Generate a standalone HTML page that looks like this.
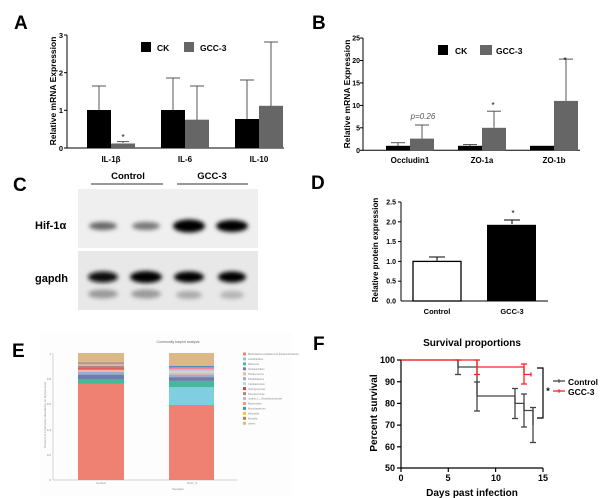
<!DOCTYPE html>
<html><head><meta charset="utf-8"><style>
html,body{margin:0;padding:0;background:#fff;width:600px;height:498px;overflow:hidden}
svg{display:block;font-family:"Liberation Sans",sans-serif}
.b{font-weight:bold}
</style></head><body>
<svg width="600" height="498" viewBox="0 0 600 498" xmlns="http://www.w3.org/2000/svg">
<defs>
<filter id="bl" x="-30%" y="-60%" width="160%" height="220%"><feGaussianBlur stdDeviation="2"/></filter>
</defs>
<g class="b" font-size="19" fill="#000">
<text x="14" y="29">A</text><text x="312" y="29">B</text>
<text x="13" y="191">C</text><text x="311" y="189">D</text>
<text x="12" y="357">E</text><text x="313" y="350">F</text>
</g>

<!-- Panel A -->
<g stroke="#000" stroke-width="1" fill="none">
<line x1="67" y1="35" x2="67" y2="148"/><line x1="67" y1="148" x2="284" y2="148"/>
<line x1="64" y1="35" x2="67" y2="35"/><line x1="64" y1="72.7" x2="67" y2="72.7"/><line x1="64" y1="110.3" x2="67" y2="110.3"/><line x1="64" y1="148" x2="67" y2="148"/>
</g>
<g class="b" font-size="7.5" text-anchor="end"><text x="63" y="38">3</text><text x="63" y="75.5">2</text><text x="63" y="113">1</text><text x="63" y="151">0</text></g>
<text class="b" font-size="8.5" transform="translate(56,91) rotate(-90)" text-anchor="middle">Relative mRNA Expression</text>
<g stroke="#555" stroke-width="1">
<line x1="99" y1="110" x2="99" y2="86"/><line x1="92" y1="86" x2="106" y2="86"/>
<line x1="123" y1="143" x2="123" y2="141.6"/><line x1="117" y1="141.6" x2="129" y2="141.6"/>
<line x1="173" y1="110" x2="173" y2="78"/><line x1="166" y1="78" x2="180" y2="78"/>
<line x1="197" y1="120" x2="197" y2="86"/><line x1="190" y1="86" x2="204" y2="86"/>
<line x1="247" y1="119" x2="247" y2="80"/><line x1="240" y1="80" x2="254" y2="80"/>
<line x1="271" y1="106" x2="271" y2="42"/><line x1="264" y1="42" x2="278" y2="42"/>
</g>
<rect x="87" y="110" width="24" height="38" fill="#000"/>
<rect x="111" y="143.5" width="24" height="4.5" fill="#666"/>
<rect x="161" y="110" width="24" height="38" fill="#000"/>
<rect x="185" y="119.7" width="24" height="28.3" fill="#666"/>
<rect x="235" y="119" width="24" height="29" fill="#000"/>
<rect x="259" y="105.8" width="24" height="42.2" fill="#666"/>
<text x="123" y="140" font-size="8" text-anchor="middle">*</text>
<rect x="141" y="42" width="10" height="10" fill="#000"/><text class="b" x="157" y="51" font-size="8.5">CK</text>
<rect x="184" y="42" width="10" height="10" fill="#666"/><text class="b" x="200" y="51" font-size="8.5">GCC-3</text>
<g class="b" font-size="8" text-anchor="middle"><text x="111" y="162">IL-1β</text><text x="185" y="162">IL-6</text><text x="259" y="162">IL-10</text></g>

<!-- Panel B -->
<g stroke="#000" stroke-width="1" fill="none">
<line x1="363" y1="38" x2="363" y2="150.3"/><line x1="363" y1="150.3" x2="580" y2="150.3"/>
<line x1="360" y1="38" x2="363" y2="38"/><line x1="360" y1="60.5" x2="363" y2="60.5"/><line x1="360" y1="82.9" x2="363" y2="82.9"/><line x1="360" y1="105.4" x2="363" y2="105.4"/><line x1="360" y1="127.8" x2="363" y2="127.8"/><line x1="360" y1="150.3" x2="363" y2="150.3"/>
</g>
<g class="b" font-size="7" text-anchor="end"><text x="360" y="40.5">25</text><text x="360" y="63">20</text><text x="360" y="85.5">15</text><text x="360" y="108">10</text><text x="360" y="130.5">5</text><text x="360" y="153">0</text></g>
<text class="b" font-size="8.5" transform="translate(350,94) rotate(-90)" text-anchor="middle">Relative mRNA Expression</text>
<g stroke="#555" stroke-width="1">
<line x1="398" y1="146" x2="398" y2="142.7"/><line x1="391" y1="142.7" x2="405" y2="142.7"/>
<line x1="422" y1="138.6" x2="422" y2="125"/><line x1="415" y1="125" x2="429" y2="125"/>
<line x1="494" y1="127.8" x2="494" y2="111.2"/><line x1="487" y1="111.2" x2="501" y2="111.2"/>
<line x1="566" y1="100.9" x2="566" y2="59.1"/><line x1="559" y1="59.1" x2="573" y2="59.1"/>
<line x1="470" y1="146" x2="470" y2="144.5"/><line x1="463" y1="144.5" x2="477" y2="144.5"/>
</g>
<rect x="386" y="145.8" width="24" height="4.5" fill="#000"/>
<rect x="410" y="138.6" width="24" height="11.7" fill="#666"/>
<rect x="458" y="145.8" width="24" height="4.5" fill="#000"/>
<rect x="482" y="127.8" width="24" height="22.5" fill="#666"/>
<rect x="530" y="145.8" width="24" height="4.5" fill="#000"/>
<rect x="554" y="100.9" width="24" height="49.4" fill="#666"/>
<text x="423" y="119" font-size="8" font-style="italic" fill="#555" text-anchor="middle">p=0.26</text>
<text x="493" y="108" font-size="8" text-anchor="middle">*</text>
<text x="565" y="63" font-size="8" text-anchor="middle">*</text>
<rect x="438" y="45" width="10" height="10" fill="#000"/><text class="b" x="455" y="54" font-size="8.5">CK</text>
<rect x="480" y="45" width="12" height="10" fill="#666"/><text class="b" x="496" y="54" font-size="8.5">GCC-3</text>
<g class="b" font-size="8" text-anchor="middle"><text x="410" y="163">Occludin1</text><text x="482" y="163">ZO-1a</text><text x="554" y="163">ZO-1b</text></g>

<!-- Panel C -->
<g class="b" font-size="9.5" text-anchor="middle"><text x="128" y="179">Control</text><text x="212" y="179">GCC-3</text></g>
<line x1="91" y1="184" x2="163" y2="184" stroke="#333" stroke-width="1"/>
<line x1="177" y1="184" x2="248" y2="184" stroke="#333" stroke-width="1"/>
<rect x="78" y="189" width="180" height="59" fill="#efefef"/>
<rect x="78" y="251" width="180" height="59" fill="#e8e8e8"/>
<g filter="url(#bl)">
<ellipse cx="103" cy="226" rx="14" ry="4" fill="#666"/>
<ellipse cx="146" cy="226" rx="14" ry="4" fill="#777"/>
<ellipse cx="189" cy="226" rx="16" ry="6.5" fill="#000"/>
<ellipse cx="232" cy="226" rx="16" ry="6" fill="#000"/>
<ellipse cx="103" cy="277" rx="15" ry="5.5" fill="#111"/>
<ellipse cx="146" cy="277" rx="16" ry="6" fill="#000"/>
<ellipse cx="189" cy="277" rx="15" ry="5.5" fill="#000"/>
<ellipse cx="232" cy="277" rx="14" ry="5.5" fill="#000"/>
<ellipse cx="103" cy="294" rx="15" ry="4.5" fill="#999"/>
<ellipse cx="146" cy="294" rx="15" ry="4.5" fill="#999"/>
<ellipse cx="189" cy="295" rx="13" ry="4" fill="#aaa"/>
<ellipse cx="232" cy="295" rx="12" ry="4" fill="#b5b5b5"/>
</g>
<text class="b" x="35" y="229" font-size="11">Hif-1α</text>
<text class="b" x="35" y="282" font-size="11">gapdh</text>

<!-- Panel D -->
<g stroke="#000" stroke-width="1" fill="none">
<line x1="401" y1="202" x2="401" y2="301"/><line x1="401" y1="301" x2="548" y2="301"/>
<line x1="398" y1="202" x2="401" y2="202"/><line x1="398" y1="221.8" x2="401" y2="221.8"/><line x1="398" y1="241.6" x2="401" y2="241.6"/><line x1="398" y1="261.4" x2="401" y2="261.4"/><line x1="398" y1="281.2" x2="401" y2="281.2"/>
<line x1="437" y1="261" x2="437" y2="257"/><line x1="429" y1="257" x2="445" y2="257"/>
<line x1="512" y1="224" x2="512" y2="220"/><line x1="504" y1="220" x2="520" y2="220"/>
</g>
<rect x="413" y="261.4" width="48" height="39.6" fill="#fff" stroke="#000" stroke-width="1.3"/>
<rect x="487" y="224.8" width="49" height="76.2" fill="#000"/>
<g class="b" font-size="7" text-anchor="end"><text x="396" y="204.5">2.5</text><text x="396" y="224.5">2.0</text><text x="396" y="244">1.5</text><text x="396" y="264">1.0</text><text x="396" y="283.5">0.5</text><text x="396" y="303.5">0.0</text></g>
<text class="b" font-size="8" transform="translate(378,250) rotate(-90)" text-anchor="middle">Relative protein expression</text>
<text x="513" y="216" font-size="8" text-anchor="middle">*</text>
<g class="b" font-size="7.5" text-anchor="middle"><text x="437" y="314">Control</text><text x="512" y="314">GCC-3</text></g>

<!-- Panel E -->
<rect x="40" y="333" width="252" height="163" fill="#fdfdfd"/>
<text x="178" y="343" font-size="3.5" fill="#666" text-anchor="middle">Community barplot analysis</text>
<line x1="53" y1="353" x2="53" y2="480" stroke="#aaa" stroke-width="0.5"/>
<line x1="53" y1="480" x2="237" y2="480" stroke="#aaa" stroke-width="0.5"/>
<g font-size="3" fill="#888" text-anchor="end"><text x="51" y="355">1</text><text x="51" y="380">0.8</text><text x="51" y="405">0.6</text><text x="51" y="431">0.4</text><text x="51" y="456">0.2</text><text x="51" y="481">0</text></g>
<text font-size="3" fill="#888" transform="translate(46,415) rotate(-90)" text-anchor="middle">Percent of community abundance on Genus level</text>
<g font-size="3" fill="#888" text-anchor="middle"><text x="101" y="484">Control</text><text x="192" y="484">GCC_3</text><text x="178" y="490">Samples</text></g>
<g>
<rect x="78" y="383.5" width="46" height="96.5" fill="#ee8171"/>
<rect x="78" y="379.7" width="46" height="3.8" fill="#4ab79c"/>
<rect x="78" y="374.6" width="46" height="5.1" fill="#6c7fab"/>
<rect x="78" y="372" width="46" height="2.6" fill="#9eaad0"/>
<rect x="78" y="369.5" width="46" height="2.5" fill="#f6b3a4"/>
<rect x="78" y="368.2" width="46" height="1.3" fill="#e33a3a"/>
<rect x="78" y="365.7" width="46" height="2.5" fill="#a68a80"/>
<rect x="78" y="364.4" width="46" height="1.3" fill="#f3b0a8"/>
<rect x="78" y="361.9" width="46" height="2.5" fill="#b69a96"/>
<rect x="78" y="353" width="46" height="8.9" fill="#dcb887"/>
</g>
<g>
<rect x="169" y="405" width="45" height="75" fill="#ee8171"/>
<rect x="169" y="387.3" width="45" height="17.7" fill="#80cfe1"/>
<rect x="169" y="380.9" width="45" height="6.4" fill="#4ab79c"/>
<rect x="169" y="377.1" width="45" height="3.8" fill="#6c7fab"/>
<rect x="169" y="374.6" width="45" height="2.5" fill="#9eaad0"/>
<rect x="169" y="372.7" width="45" height="1.9" fill="#f6b3a4"/>
<rect x="169" y="370.8" width="45" height="1.9" fill="#b5dfd2"/>
<rect x="169" y="368.9" width="45" height="1.9" fill="#c8b4e0"/>
<rect x="169" y="367" width="45" height="1.9" fill="#ef7d80"/>
<rect x="169" y="365.7" width="45" height="1.3" fill="#4a8fc0"/>
<rect x="169" y="365" width="45" height="0.7" fill="#f5c242"/>
<rect x="169" y="353" width="45" height="12" fill="#dcb887"/>
</g>
<g font-size="2.6" fill="#888">
<rect x="243" y="352.5" width="3" height="3" fill="#ee8171"/><text x="248" y="355">Burkholderia-Caballeronia-Paraburkholderia</text>
<rect x="243" y="357.4" width="3" height="3" fill="#80cfe1"/><text x="248" y="360">Lactobacillus</text>
<rect x="243" y="362.4" width="3" height="3" fill="#4ab79c"/><text x="248" y="365">Ralstonia</text>
<rect x="243" y="367.3" width="3" height="3" fill="#6c7fab"/><text x="248" y="370">Herbaspirillum</text>
<rect x="243" y="372.3" width="3" height="3" fill="#f6b3a4"/><text x="248" y="375">Rhodococcus</text>
<rect x="243" y="377.2" width="3" height="3" fill="#9eaad0"/><text x="248" y="380">Rhodoblastus</text>
<rect x="243" y="382.2" width="3" height="3" fill="#b5dfd2"/><text x="248" y="385">Cetobacterium</text>
<rect x="243" y="387.1" width="3" height="3" fill="#e33a3a"/><text x="248" y="390">Sphingomonas</text>
<rect x="243" y="392.1" width="3" height="3" fill="#a68a80"/><text x="248" y="395">Pseudomonas</text>
<rect x="243" y="397" width="3" height="3" fill="#c8b4e0"/><text x="248" y="399.5">norank_f__Oxalobacteraceae</text>
<rect x="243" y="402" width="3" height="3" fill="#f49a84"/><text x="248" y="404.5">Bacteroides</text>
<rect x="243" y="406.9" width="3" height="3" fill="#4a8fc0"/><text x="248" y="409.5">Mycobacterium</text>
<rect x="243" y="411.9" width="3" height="3" fill="#f5c242"/><text x="248" y="414.5">Weissella</text>
<rect x="243" y="416.8" width="3" height="3" fill="#c77c4f"/><text x="248" y="419.5">Massilia</text>
<rect x="243" y="421.8" width="3" height="3" fill="#dcb887"/><text x="248" y="424.5">others</text>
</g>

<!-- Panel F -->
<text class="b" x="472" y="346" font-size="10" text-anchor="middle">Survival proportions</text>
<g stroke="#000" stroke-width="1.2" fill="none">
<line x1="401" y1="360" x2="401" y2="468"/><line x1="401" y1="468" x2="543" y2="468"/>
<line x1="397" y1="360" x2="401" y2="360"/><line x1="397" y1="381.7" x2="401" y2="381.7"/><line x1="397" y1="403.4" x2="401" y2="403.4"/><line x1="397" y1="425.1" x2="401" y2="425.1"/><line x1="397" y1="446.8" x2="401" y2="446.8"/><line x1="397" y1="468" x2="401" y2="468"/>
<line x1="401" y1="468" x2="401" y2="472"/><line x1="448.3" y1="468" x2="448.3" y2="472"/><line x1="495.6" y1="468" x2="495.6" y2="472"/><line x1="543" y1="468" x2="543" y2="472"/>
</g>
<g class="b" font-size="9" text-anchor="end"><text x="395" y="363">100</text><text x="395" y="385">90</text><text x="395" y="406.5">80</text><text x="395" y="428">70</text><text x="395" y="450">60</text><text x="395" y="471">50</text></g>
<g class="b" font-size="9" text-anchor="middle"><text x="401" y="481">0</text><text x="448" y="481">5</text><text x="496" y="481">10</text><text x="543" y="481">15</text></g>
<text class="b" x="472" y="496" font-size="10" text-anchor="middle">Days past infection</text>
<text class="b" font-size="10" transform="translate(377,413) rotate(-90)" text-anchor="middle">Percent survival</text>
<g stroke="#444" stroke-width="1.3" fill="none">
<polyline points="401,360 458,360 458,367 477,367 477,396 515,396 515,403.4 524,403.4 524,410.5 533,410.5 533,425"/>
<line x1="458" y1="360" x2="458" y2="374.5"/><line x1="455" y1="374.5" x2="461" y2="374.5"/><line x1="455" y1="360" x2="461" y2="360"/>
<line x1="477" y1="382" x2="477" y2="411"/><line x1="474" y1="382" x2="480" y2="382"/><line x1="474" y1="411" x2="480" y2="411"/>
<line x1="515" y1="388.5" x2="515" y2="418.5"/><line x1="512" y1="388.5" x2="518" y2="388.5"/><line x1="512" y1="418.5" x2="518" y2="418.5"/>
<line x1="524" y1="394" x2="524" y2="427"/><line x1="521" y1="394" x2="527" y2="394"/><line x1="521" y1="427" x2="527" y2="427"/>
<line x1="533" y1="407.5" x2="533" y2="442.5"/><line x1="530" y1="407.5" x2="536" y2="407.5"/><line x1="530" y1="442.5" x2="536" y2="442.5"/>
</g>
<g stroke="#f22" stroke-width="1.3" fill="none">
<polyline points="401,360 477,360 477,367 524,367 524,374.5 531,374.5"/>
<line x1="477" y1="360" x2="477" y2="374.5"/><line x1="474" y1="360" x2="480" y2="360"/><line x1="474" y1="374.5" x2="480" y2="374.5"/>
<line x1="524" y1="364" x2="524" y2="384"/><line x1="521" y1="364" x2="527" y2="364"/><line x1="521" y1="384" x2="527" y2="384"/>
<line x1="531" y1="372.5" x2="531" y2="376.5"/>
</g>
<polyline points="537,368 543,368 543,418 537,418" stroke="#000" stroke-width="1.2" fill="none"/>
<text x="548" y="394" font-size="9" text-anchor="middle" class="b">*</text>
<line x1="553" y1="381" x2="565" y2="381" stroke="#444" stroke-width="1.3"/><line x1="559" y1="379" x2="559" y2="383" stroke="#444"/>
<line x1="553" y1="391" x2="565" y2="391" stroke="#f22" stroke-width="1.3"/><line x1="559" y1="389" x2="559" y2="393" stroke="#f22"/>
<g class="b" font-size="8.5"><text x="568" y="385" textLength="30" lengthAdjust="spacingAndGlyphs">Control</text><text x="568" y="395">GCC-3</text></g>
</svg>
</body></html>
